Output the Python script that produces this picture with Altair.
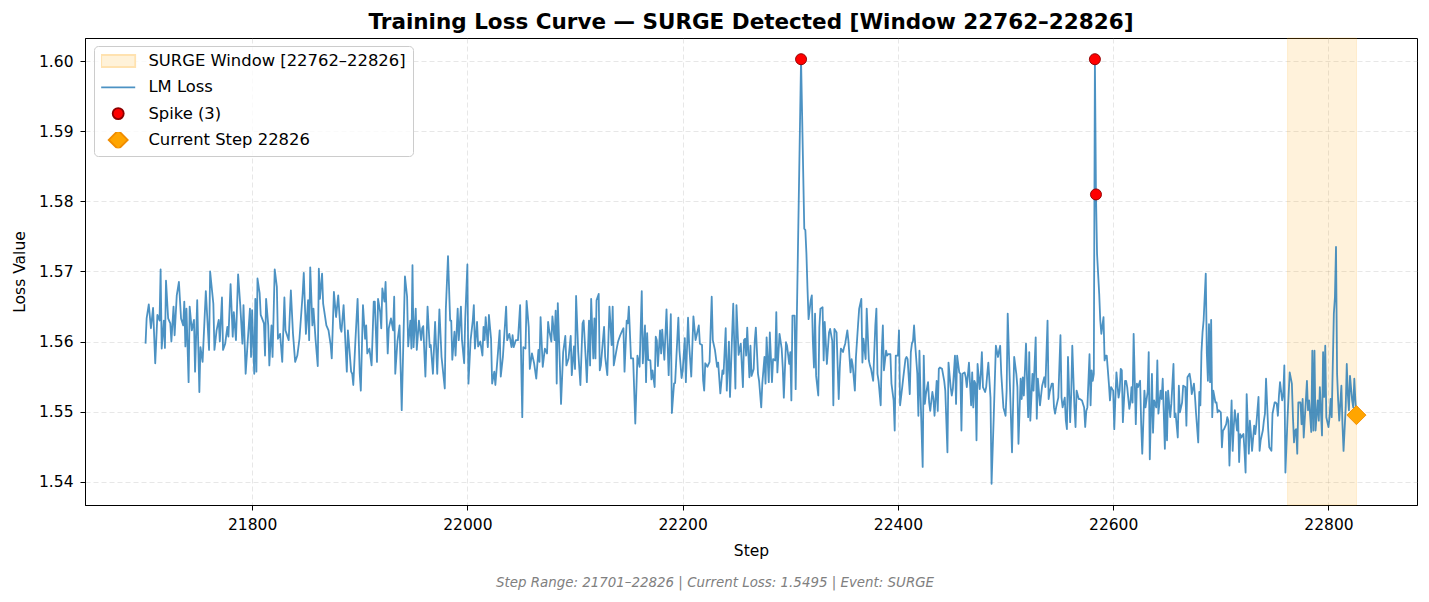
import pandas as pd
import altair as alt

# loss trace (step, value)
steps = [
    21701, 21702, 21704, 21706, 21708, 21710, 21712, 21714, 21715, 21716, 21718, 21719, 21720, 21722,
    21724, 21725, 21727, 21728, 21730, 21732, 21734, 21736, 21737, 21738, 21739, 21741, 21742, 21744,
    21746, 21747, 21749, 21751, 21752, 21754, 21757, 21760, 21761, 21764, 21765, 21767, 21769, 21770,
    21772, 21773, 21775, 21777, 21778, 21780, 21782, 21783, 21785, 21787, 21789, 21791, 21792, 21794,
    21796, 21798, 21799, 21800, 21802, 21803, 21804, 21805, 21807, 21808, 21811, 21812, 21813, 21815,
    21816, 21818, 21819, 21821, 21823, 21824, 21826, 21828, 21830, 21831, 21834, 21836, 21838, 21840,
    21842, 21844, 21847, 21848, 21850, 21852, 21853, 21854, 21856, 21857, 21859, 21861, 21862, 21863,
    21865, 21866, 21869, 21871, 21873, 21874, 21876, 21878, 21880, 21882, 21883, 21885,
    21888, 21889, 21890, 21892, 21893, 21894, 21896, 21898, 21900, 21901, 21903, 21905, 21906, 21907,
    21909, 21911, 21913, 21914, 21916, 21917, 21919, 21920, 21921, 21923, 21924, 21926, 21927, 21929,
    21931, 21932, 21933, 21935, 21937, 21939, 21942, 21944, 21945, 21947, 21948, 21949, 21950, 21952,
    21953, 21955, 21957, 21958, 21959, 21961, 21963, 21965, 21966, 21968, 21970, 21972, 21974, 21976,
    21979, 21980, 21982, 21984, 21985, 21986, 21988, 21989, 21991, 21992, 21994, 21995, 21997, 21998,
    22000, 22001, 22003, 22005, 22006, 22007, 22009, 22010, 22012, 22014, 22015, 22016, 22017, 22019,
    22020, 22022, 22023, 22025, 22026, 22028, 22030, 22031, 22033, 22036, 22037, 22039, 22041, 22042,
    22043, 22045, 22047, 22049, 22051, 22052, 22054, 22055, 22057, 22058, 22060, 22062, 22064, 22066,
    22067, 22068, 22070,
    22072, 22074, 22075, 22076, 22078, 22079, 22081, 22082, 22083, 22084, 22086, 22087, 22089, 22091,
    22092, 22094, 22096, 22097, 22099, 22100, 22101, 22103, 22105, 22107, 22108, 22110, 22111, 22113,
    22114, 22115, 22117, 22118, 22119, 22120, 22122, 22123, 22124, 22127, 22128, 22130, 22131, 22132,
    22134, 22135, 22136, 22139, 22140, 22142, 22144, 22145, 22146, 22148, 22149, 22150, 22152, 22154,
    22156, 22158, 22160, 22162, 22163, 22165, 22166, 22167, 22168, 22170, 22171, 22172, 22174, 22175,
    22176, 22177, 22179, 22180, 22181, 22183, 22185, 22187, 22189, 22190, 22192, 22193, 22196, 22197,
    22199, 22200, 22202, 22203, 22205, 22206, 22208, 22210, 22212, 22215, 22216, 22218, 22219, 22220,
    22221, 22223, 22225, 22227, 22228, 22230, 22232, 22233, 22235, 22237, 22238, 22240, 22241, 22243,
    22244, 22246, 22247, 22249, 22250, 22252, 22254, 22256, 22257,
    22258, 22259, 22260, 22262, 22263, 22264, 22266, 22267, 22268, 22270, 22271, 22273, 22274, 22276,
    22277, 22278, 22280, 22281, 22283, 22284, 22286, 22287, 22288, 22290, 22292, 22293, 22294, 22296,
    22297, 22299, 22300, 22301, 22302, 22304, 22305, 22310, 22313, 22314, 22315, 22316, 22317, 22319,
    22320, 22321, 22322, 22323, 22324, 22326, 22327, 22328, 22330, 22331, 22332, 22334, 22336, 22337,
    22339, 22340, 22341, 22343, 22345, 22346, 22347, 22349, 22350, 22351, 22353, 22354, 22356, 22357,
    22358, 22360, 22361, 22363, 22364, 22366, 22367, 22368, 22370, 22371, 22373, 22374, 22375, 22377,
    22379, 22380, 22381, 22382, 22384, 22385, 22386, 22387, 22389, 22390, 22391, 22393, 22394, 22396,
    22397, 22398, 22400, 22401, 22402, 22404, 22405, 22407, 22408, 22409, 22411, 22412, 22413, 22414,
    22415, 22416, 22418, 22419, 22420, 22421, 22423, 22424, 22425, 22426, 22428, 22429, 22430, 22432,
    22433, 22434, 22436, 22437, 22438, 22439, 22441, 22443,
    22444, 22446, 22447, 22449, 22450, 22451, 22453, 22454, 22455, 22457, 22458, 22459, 22460, 22462,
    22463, 22464, 22466, 22468, 22469, 22470, 22471, 22472, 22473, 22474, 22476, 22477, 22478, 22479,
    22481, 22482, 22483, 22484, 22486, 22487, 22489, 22491, 22493, 22494, 22495, 22496, 22498, 22500,
    22501, 22502, 22504, 22506, 22508, 22510, 22511, 22512, 22514, 22515, 22516, 22517, 22519, 22521,
    22522, 22523, 22525, 22526, 22528, 22529, 22530, 22532, 22533, 22534, 22536, 22537, 22539, 22540,
    22541, 22543, 22544, 22545, 22546, 22547, 22549, 22551, 22552, 22553, 22555, 22556, 22557, 22558,
    22560, 22561, 22562, 22564, 22565, 22566, 22568, 22569, 22571, 22573, 22574, 22575, 22576, 22578,
    22579, 22580, 22581, 22582, 22583, 22584, 22585, 22587, 22588, 22589, 22591, 22592, 22593, 22594,
    22596, 22597, 22598, 22600, 22601, 22602, 22603, 22605, 22606, 22607, 22608, 22609, 22611, 22612,
    22613, 22615, 22616, 22617, 22618, 22619, 22621, 22622, 22623, 22625, 22626, 22627, 22629,
    22630, 22632, 22633, 22634, 22636, 22637, 22638, 22640, 22641, 22642, 22644, 22645, 22646, 22648,
    22649, 22650, 22651, 22653, 22654, 22656, 22657, 22658, 22660, 22661, 22662, 22664, 22665, 22667,
    22668, 22669, 22671, 22672, 22673, 22675, 22676, 22677, 22679, 22680, 22681, 22682, 22683, 22684,
    22686, 22687, 22688, 22689, 22690, 22691, 22692, 22693, 22695, 22696, 22697, 22698, 22700, 22701,
    22702, 22703, 22705, 22706, 22707, 22708, 22710, 22711, 22712, 22713, 22715, 22716, 22717, 22718,
    22719, 22721, 22722, 22723, 22724, 22726, 22727, 22728, 22729, 22731, 22732, 22733, 22735, 22736,
    22737, 22739, 22740, 22741, 22742, 22744, 22745, 22747, 22748, 22750, 22751, 22752, 22753, 22754,
    22755, 22757, 22758, 22759, 22760, 22762, 22763, 22764, 22766, 22767, 22768, 22769, 22770, 22771,
    22772, 22774, 22775, 22776, 22777, 22779, 22780, 22781, 22782, 22784, 22785, 22786, 22787, 22788,
    22790, 22791, 22792, 22794, 22795, 22796, 22797, 22798, 22800, 22801, 22802, 22803, 22805, 22806,
    22807, 22808, 22809, 22810, 22812, 22813, 22814, 22816, 22817, 22818, 22819, 22820, 22822, 22823,
    22824, 22825, 22826,
]
loss = [
    1.5597, 1.5633, 1.5653, 1.5619, 1.5648, 1.5569, 1.5638, 1.5630, 1.5703, 1.5590, 1.5630, 1.5591, 1.5687, 1.5633,
    1.5626, 1.5600, 1.5650, 1.5609, 1.5666, 1.5685, 1.5633, 1.5623, 1.5657, 1.5593, 1.5647, 1.5542, 1.5650, 1.5616,
    1.5631, 1.5557, 1.5659, 1.5528, 1.5592, 1.5571, 1.5672, 1.5588, 1.5700, 1.5654, 1.5588, 1.5616, 1.5631, 1.5600,
    1.5663, 1.5588, 1.5597, 1.5621, 1.5607, 1.5682, 1.5607, 1.5642, 1.5602, 1.5696, 1.5652, 1.5597, 1.5652, 1.5554,
    1.5602, 1.5647, 1.5578, 1.5645, 1.5554, 1.5661, 1.5557, 1.5690, 1.5669, 1.5638, 1.5626, 1.5580, 1.5661, 1.5623,
    1.5566, 1.5623, 1.5578, 1.5703, 1.5678, 1.5604, 1.5611, 1.5571, 1.5663, 1.5616, 1.5602, 1.5673, 1.5611, 1.5571,
    1.5580, 1.5604, 1.5669, 1.5698, 1.5611, 1.5659, 1.5602, 1.5706, 1.5623, 1.5647, 1.5602, 1.5565, 1.5704, 1.5661,
    1.5697, 1.5654, 1.5623, 1.5616, 1.5595, 1.5576, 1.5671, 1.5635, 1.5666, 1.5619, 1.5614, 1.5652,
    1.5557, 1.5616, 1.5597, 1.5557, 1.5554, 1.5538, 1.5602, 1.5661, 1.5554, 1.5530, 1.5652, 1.5604, 1.5623, 1.5583,
    1.5590, 1.5566, 1.5657, 1.5657, 1.5571, 1.5661, 1.5642, 1.5619, 1.5676, 1.5657, 1.5685, 1.5583, 1.5619, 1.5633,
    1.5616, 1.5664, 1.5554, 1.5600, 1.5623, 1.5502, 1.5693, 1.5664, 1.5593, 1.5630, 1.5590, 1.5709, 1.5592, 1.5647,
    1.5588, 1.5630, 1.5602, 1.5619, 1.5622, 1.5550, 1.5650, 1.5592, 1.5595, 1.5554, 1.5628, 1.5554, 1.5646, 1.5578,
    1.5533, 1.5647, 1.5722, 1.5630, 1.5630, 1.5574, 1.5614, 1.5580, 1.5647, 1.5602, 1.5650, 1.5602, 1.5569, 1.5633,
    1.5710, 1.5540, 1.5602, 1.5630, 1.5652, 1.5590, 1.5628, 1.5593, 1.5600, 1.5580, 1.5621, 1.5602, 1.5635, 1.5592,
    1.5638, 1.5604, 1.5540, 1.5557, 1.5538, 1.5576, 1.5616, 1.5550, 1.5578, 1.5650, 1.5602, 1.5611, 1.5592, 1.5609,
    1.5592, 1.5602, 1.5602, 1.5652, 1.5492, 1.5592, 1.5590, 1.5658, 1.5621, 1.5561, 1.5583, 1.5569, 1.5547, 1.5588,
    1.5571, 1.5635, 1.5564,
    1.5590, 1.5583, 1.5628, 1.5616, 1.5600, 1.5636, 1.5602, 1.5644, 1.5540, 1.5655, 1.5564, 1.5511, 1.5585, 1.5608,
    1.5566, 1.5576, 1.5608, 1.5552, 1.5593, 1.5561, 1.5665, 1.5585, 1.5538, 1.5626, 1.5630, 1.5574, 1.5542, 1.5630,
    1.5566, 1.5661, 1.5576, 1.5633, 1.5576, 1.5659, 1.5668, 1.5559, 1.5566, 1.5621, 1.5578, 1.5552, 1.5602, 1.5650,
    1.5595, 1.5650, 1.5566, 1.5592, 1.5600, 1.5609, 1.5616, 1.5619, 1.5557, 1.5630, 1.5626, 1.5650, 1.5576, 1.5576,
    1.5483, 1.5580, 1.5564, 1.5672, 1.5569, 1.5623, 1.5542, 1.5612, 1.5574, 1.5573, 1.5546, 1.5559, 1.5535, 1.5607,
    1.5602, 1.5565, 1.5616, 1.5583, 1.5617, 1.5574, 1.5646, 1.5552, 1.5639, 1.5498, 1.5540, 1.5541, 1.5634, 1.5588,
    1.5548, 1.5557, 1.5605, 1.5542, 1.5634, 1.5597, 1.5550, 1.5636, 1.5602, 1.5623, 1.5597, 1.5595, 1.5545, 1.5530,
    1.5569, 1.5564, 1.5571, 1.5664, 1.5602, 1.5588, 1.5564, 1.5570, 1.5526, 1.5559, 1.5554, 1.5619, 1.5530, 1.5600,
    1.5521, 1.5612, 1.5654, 1.5533, 1.5652, 1.5581, 1.5597, 1.5535, 1.5602,
    1.5604, 1.5580, 1.5620, 1.5549, 1.5594, 1.5551, 1.5561, 1.5601, 1.5620, 1.5554, 1.5544, 1.5506, 1.5540, 1.5578,
    1.5540, 1.5606, 1.5542, 1.5613, 1.5542, 1.5575, 1.5573, 1.5642, 1.5556, 1.5611, 1.5590, 1.5563, 1.5520, 1.5599,
    1.5594, 1.5568, 1.5585, 1.5516, 1.5637, 1.5637, 1.5532, 1.6003, 1.5761, 1.5759, 1.5725, 1.5675, 1.5632, 1.5659,
    1.5666, 1.5599, 1.5563, 1.5640, 1.5551, 1.5523, 1.5620, 1.5647, 1.5649, 1.5573, 1.5628, 1.5568, 1.5613, 1.5618,
    1.5601, 1.5509, 1.5618, 1.5613, 1.5518, 1.5563, 1.5590, 1.5585, 1.5592, 1.5597, 1.5616, 1.5601, 1.5556, 1.5575,
    1.5566, 1.5530, 1.5578, 1.5625, 1.5647, 1.5661, 1.5570, 1.5604, 1.5575, 1.5647, 1.5573, 1.5566, 1.5561, 1.5544,
    1.5623, 1.5647, 1.5554, 1.5544, 1.5509, 1.5587, 1.5623, 1.5559, 1.5587, 1.5580, 1.5582, 1.5582, 1.5540, 1.5516,
    1.5473, 1.5580, 1.5580, 1.5616, 1.5509, 1.5535, 1.5549, 1.5575, 1.5578, 1.5575, 1.5525, 1.5585, 1.5597, 1.5601,
    1.5623, 1.5597, 1.5554, 1.5494, 1.5587, 1.5523, 1.5421, 1.5580, 1.5511, 1.5525, 1.5542, 1.5513, 1.5501, 1.5528,
    1.5518, 1.5494, 1.5544, 1.5501, 1.5561, 1.5563, 1.5561, 1.5544,
    1.5530, 1.5442, 1.5570, 1.5535, 1.5523, 1.5532, 1.5580, 1.5511, 1.5580, 1.5556, 1.5554, 1.5473, 1.5554, 1.5556,
    1.5549, 1.5535, 1.5570, 1.5509, 1.5556, 1.5506, 1.5544, 1.5540, 1.5459, 1.5568, 1.5532, 1.5554, 1.5585, 1.5535,
    1.5528, 1.5535, 1.5554, 1.5570, 1.5520, 1.5397, 1.5492, 1.5594, 1.5578, 1.5587, 1.5594, 1.5554, 1.5506, 1.5494,
    1.5530, 1.5640, 1.5540, 1.5442, 1.5578, 1.5554, 1.5535, 1.5454, 1.5547, 1.5518, 1.5549, 1.5523, 1.5597, 1.5492,
    1.5585, 1.5487, 1.5554, 1.5530, 1.5606, 1.5490, 1.5547, 1.5509, 1.5523, 1.5537, 1.5549, 1.5535, 1.5630, 1.5518,
    1.5528, 1.5540, 1.5540, 1.5506, 1.5497, 1.5506, 1.5520, 1.5609, 1.5520, 1.5506, 1.5520, 1.5487, 1.5475, 1.5578,
    1.5485, 1.5525, 1.5594, 1.5506, 1.5478, 1.5530, 1.5518, 1.5518, 1.5516, 1.5506, 1.5478, 1.5501, 1.5506, 1.5582,
    1.5509, 1.5559, 1.5544, 1.5554, 1.6003, 1.5810, 1.5725, 1.5668, 1.5630, 1.5611, 1.5635, 1.5573, 1.5580, 1.5580,
    1.5540, 1.5516, 1.5535, 1.5530, 1.5475, 1.5518, 1.5556, 1.5520, 1.5530, 1.5561, 1.5559, 1.5485, 1.5544, 1.5544,
    1.5535, 1.5504, 1.5513, 1.5535, 1.5513, 1.5611, 1.5482, 1.5540, 1.5535, 1.5544, 1.5482, 1.5440, 1.5530,
    1.5506, 1.5528, 1.5585, 1.5432, 1.5554, 1.5470, 1.5516, 1.5506, 1.5573, 1.5497, 1.5530, 1.5518, 1.5547, 1.5447,
    1.5528, 1.5459, 1.5530, 1.5492, 1.5511, 1.5568, 1.5492, 1.5497, 1.5463, 1.5537, 1.5499, 1.5513, 1.5537, 1.5535,
    1.5480, 1.5549, 1.5554, 1.5544, 1.5525, 1.5540, 1.5521, 1.5497, 1.5456, 1.5528, 1.5509, 1.5585, 1.5613, 1.5630,
    1.5697, 1.5583, 1.5544, 1.5625, 1.5542, 1.5631, 1.5492, 1.5530, 1.5513, 1.5513, 1.5499, 1.5502, 1.5499, 1.5449,
    1.5473, 1.5475, 1.5482, 1.5492, 1.5487, 1.5423, 1.5516, 1.5444, 1.5478, 1.5502, 1.5473, 1.5497, 1.5428, 1.5468,
    1.5463, 1.5468, 1.5444, 1.5413, 1.5525, 1.5440, 1.5487, 1.5468, 1.5444, 1.5480, 1.5468, 1.5482, 1.5521, 1.5444,
    1.5459, 1.5473, 1.5487, 1.5497, 1.5547, 1.5475, 1.5449, 1.5444, 1.5497, 1.5513, 1.5513, 1.5511, 1.5494, 1.5523,
    1.5542, 1.5516, 1.5525, 1.5566, 1.5413, 1.5492, 1.5525, 1.5556, 1.5540, 1.5492, 1.5456, 1.5473, 1.5475, 1.5440,
    1.5513, 1.5513, 1.5482, 1.5518, 1.5463, 1.5516, 1.5544, 1.5502, 1.5516, 1.5471, 1.5587, 1.5473, 1.5587, 1.5473,
    1.5516, 1.5487, 1.5535, 1.5466, 1.5585, 1.5521, 1.5594, 1.5492, 1.5478, 1.5492, 1.5518, 1.5492, 1.5640, 1.5663,
    1.5735, 1.5554, 1.5516, 1.5487, 1.5537, 1.5482, 1.5444, 1.5506, 1.5568, 1.5525, 1.5502, 1.5551, 1.5516, 1.5506,
    1.5547, 1.5516, 1.5495,
]

spike_steps = [22310, 22583, 22584]
spike_loss = [1.6003, 1.6003, 1.5810]
current_step = 22826
current_loss = 1.5495
window_start, window_end = 22762, 22826

x_ticks = [21800, 22000, 22200, 22400, 22600, 22800]
y_ticks = [1.54, 1.55, 1.56, 1.57, 1.58, 1.59, 1.60]
labels = ["SURGE Window [22762–22826]", "LM Loss", "Spike (3)", "Current Step 22826"]
title = "Training Loss Curve — SURGE Detected [Window 22762–22826]"
footer_text = "Step Range: 21701–22826 | Current Loss: 1.5495 | Event: SURGE"

W, H = 1332, 467
FONT = "DejaVu Sans"
x_dom = [21644.75, 22882.25]
y_dom = [1.53667, 1.60333]

line_df = pd.DataFrame({"step": steps, "loss": loss})
pts_df = pd.DataFrame({
    "step": spike_steps + [current_step],
    "loss": spike_loss + [current_loss],
    "series": [labels[2]] * len(spike_steps) + [labels[3]],
})
win_df = pd.DataFrame({"start": [window_start], "end": [window_end]})

x_scale = alt.Scale(domain=x_dom, nice=False, zero=False)
y_scale = alt.Scale(domain=y_dom, nice=False, zero=False)
x_axis = alt.Axis(values=x_ticks, format="d", title="Step")
y_axis = alt.Axis(values=y_ticks, format=".2f", title="Loss Value")

# legend symbols: patch, line, circle, diamond (paths in unit box, scaled by size)
shapes = [
    "M-2.43,-0.86L2.43,-0.86L2.43,0.86L-2.43,0.86Z",
    "M-2.43,0L2.43,0",
    "M0.79,0A0.79,0.79,0,1,1,-0.79,0A0.79,0.79,0,1,1,0.79,0Z",
    "M0,-1.36L1.36,0L0,1.36L-1.36,0Z",
]
fills = ["#fff2d9", "#4c92c3", "#ff0000", "#ffa500"]
edges = ["#ffe2b0", "#4c92c3", "#8b0000", "#f08c00"]

legend = alt.Legend(
    title=None, orient="none", legendX=9, legendY=8,
    labelFont=FONT, labelFontSize=16.4, labelColor="black", labelLimit=0,
    symbolSize=196, symbolStrokeWidth=1.8, symbolOpacity=1,
    padding=7, rowPadding=9.3, clipHeight=16, labelOffset=22, symbolOffset=9,
    strokeColor="#cccccc", fillColor="rgba(255,255,255,0.8)", cornerRadius=4,
)

shade = alt.Chart(win_df).mark_rect(
    fill="#FFA500", fillOpacity=0.14, stroke="#FFA500", strokeOpacity=0.15, strokeWidth=1
).encode(
    x=alt.X("start:Q", scale=x_scale, axis=x_axis),
    x2="end:Q",
    y=alt.value(0),
    y2=alt.value(H),
)

line = alt.Chart(line_df).mark_line(
    color="#1f77b4", opacity=0.8, strokeWidth=1.8, strokeJoin="round"
).encode(
    x=alt.X("step:Q", scale=x_scale, axis=x_axis),
    y=alt.Y("loss:Q", scale=y_scale, axis=y_axis),
)

pts = alt.Chart(pts_df).mark_point(filled=True, size=196, opacity=1, strokeWidth=0.9).encode(
    x=alt.X("step:Q", scale=x_scale, axis=x_axis),
    y=alt.Y("loss:Q", scale=y_scale, axis=y_axis),
    fill=alt.Fill("series:N", scale=alt.Scale(domain=labels, range=fills), legend=legend),
    stroke=alt.Stroke("series:N", scale=alt.Scale(domain=labels, range=edges), legend=legend),
    shape=alt.Shape("series:N", scale=alt.Scale(domain=labels, range=shapes), legend=legend),
)

footer = alt.Chart(pd.DataFrame({"t": [footer_text]})).mark_text(
    font=FONT, fontSize=13.4, fontStyle="italic", color="gray"
).encode(text="t:N", x=alt.value(630), y=alt.value(544.5))

chart = alt.layer(shade, line, pts, footer).properties(
    width=W, height=H,
    title=alt.TitleParams(title, font=FONT, fontSize=21.5, fontWeight="bold",
                          color="black", offset=4, frame="group"),
    padding={"left": 77, "top": 30, "right": 4, "bottom": 89},
    autosize=alt.AutoSizeParams(type="none"),
).configure_view(
    stroke="black", strokeWidth=1
).configure_axis(
    domainColor="black", tickColor="black", tickSize=5,
    labelFont=FONT, labelFontSize=15.5, labelColor="black",
    titleFont=FONT, titleFontSize=15.5, titleFontWeight="normal", titleColor="black",
    gridColor="#b0b0b0", gridOpacity=0.3, gridDash=[5, 3],
    labelFlush=False, labelOverlap=False,
).configure_axisX(
    labelPadding=7, titlePadding=10.5
).configure_axisY(
    labelPadding=7, titlePadding=10.5
)

chart.save("out.html", embed_options={"renderer": "svg", "actions": False})
